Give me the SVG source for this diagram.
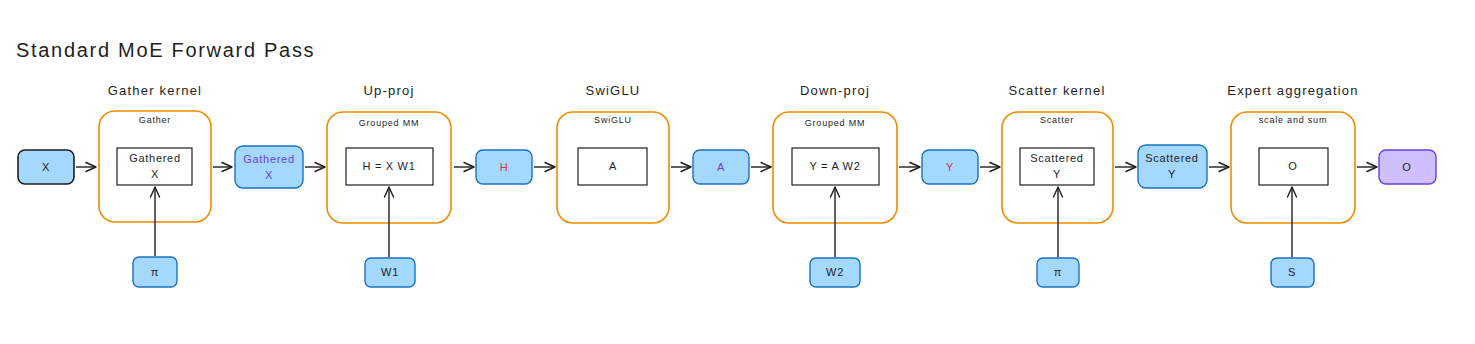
<svg xmlns="http://www.w3.org/2000/svg" width="1475" height="344" viewBox="0 0 1475 344">
<defs>
<marker id="ah" viewBox="0 0 12 12" refX="11" refY="6" markerWidth="12" markerHeight="12" markerUnits="userSpaceOnUse" orient="auto">
<path d="M1,1.5 L11,6 L1,10.5" fill="none" stroke="#1e1e1e" stroke-width="1.4" stroke-linecap="round" stroke-linejoin="round"/>
</marker>
<style>
text{font-family:"Liberation Sans","DejaVu Sans",sans-serif;fill:#1e1e1e;text-anchor:middle}
.title{font-size:20px;text-anchor:start;letter-spacing:1.7px}
.stage{font-size:13px;letter-spacing:1.2px}
.sub{font-size:9px;letter-spacing:0.8px}
.lbl{font-size:11px;letter-spacing:0.7px}
.outer{fill:#ffffff;stroke:#f08c00;stroke-width:1.6}
.inner{fill:#ffffff;stroke:#1e1e1e;stroke-width:1.2}
.blue{fill:#a5d8ff;stroke:#1971c2;stroke-width:1.4}
.blueDark{fill:#a5d8ff;stroke:#1e1e1e;stroke-width:1.6}
.purpleN{fill:#d0bfff;stroke:#6741d9;stroke-width:1.4}
.edge{fill:none;stroke:#1e1e1e;stroke-width:1.4;marker-end:url(#ah)}
.tp{fill:#6741d9}
.tr{fill:#e03131}
</style>
</defs>
<rect width="1475" height="344" fill="#ffffff"/>
<text class="title" x="16" y="57">Standard MoE Forward Pass</text>

<g id="stage-gather">
<text class="stage" x="155" y="95">Gather kernel</text>
<rect class="outer" x="99" y="111" width="112" height="111" rx="16"/>
<text class="sub" x="155" y="123">Gather</text>
<rect class="inner" x="117" y="148" width="75" height="37"/>
<text class="lbl" x="155" y="162">Gathered</text>
<text class="lbl" x="155" y="178">X</text>
</g>
<g id="stage-upproj">
<text class="stage" x="389" y="95">Up-proj</text>
<rect class="outer" x="327" y="112" width="124" height="111" rx="16"/>
<text class="sub" x="389" y="126">Grouped MM</text>
<rect class="inner" x="346" y="148" width="87" height="37"/>
<text class="lbl" x="389" y="170">H = X W1</text>
</g>
<g id="stage-swiglu">
<text class="stage" x="613" y="95">SwiGLU</text>
<rect class="outer" x="557" y="112" width="112" height="111" rx="16"/>
<text class="sub" x="613" y="123">SwiGLU</text>
<rect class="inner" x="578" y="148" width="69" height="37"/>
<text class="lbl" x="613" y="170">A</text>
</g>
<g id="stage-downproj">
<text class="stage" x="835" y="95">Down-proj</text>
<rect class="outer" x="773" y="112" width="124" height="111" rx="16"/>
<text class="sub" x="835" y="126">Grouped MM</text>
<rect class="inner" x="792" y="148" width="87" height="37"/>
<text class="lbl" x="835" y="170">Y = A W2</text>
</g>
<g id="stage-scatter">
<text class="stage" x="1057" y="95">Scatter kernel</text>
<rect class="outer" x="1002" y="112" width="111" height="111" rx="16"/>
<text class="sub" x="1057" y="123">Scatter</text>
<rect class="inner" x="1020" y="148" width="74" height="37"/>
<text class="lbl" x="1057" y="162">Scattered</text>
<text class="lbl" x="1057" y="178">Y</text>
</g>
<g id="stage-aggregation">
<text class="stage" x="1293" y="95">Expert aggregation</text>
<rect class="outer" x="1231" y="112" width="124" height="111" rx="16"/>
<text class="sub" x="1293" y="123">scale and sum</text>
<rect class="inner" x="1259" y="148" width="69" height="37"/>
<text class="lbl" x="1293" y="170">O</text>
</g>

<g id="node-x">
<rect class="blueDark" x="18" y="150" width="56" height="34" rx="7"/>
<text class="lbl" x="46" y="171">X</text>
</g>
<g id="node-gathered-x">
<rect class="blue" x="235" y="146" width="68" height="42" rx="8"/>
<text class="lbl tp" x="269" y="163">Gathered</text>
<text class="lbl tp" x="269" y="179">X</text>
</g>
<g id="node-h">
<rect class="blue" x="476" y="150" width="56" height="34" rx="7"/>
<text class="lbl tr" x="504" y="171">H</text>
</g>
<g id="node-a">
<rect class="blue" x="693" y="150" width="56" height="34" rx="7"/>
<text class="lbl tp" x="721" y="171">A</text>
</g>
<g id="node-y">
<rect class="blue" x="922" y="150" width="56" height="34" rx="7"/>
<text class="lbl tr" x="950" y="171">Y</text>
</g>
<g id="node-scattered-y">
<rect class="blue" x="1138" y="145" width="69" height="43" rx="8"/>
<text class="lbl" x="1172" y="162">Scattered</text>
<text class="lbl" x="1172" y="178">Y</text>
</g>
<g id="node-o">
<rect class="purpleN" x="1379" y="150" width="57" height="34" rx="7"/>
<text class="lbl" x="1407" y="171">O</text>
</g>
<g id="node-pi1">
<rect class="blue" x="133" y="257" width="44" height="30" rx="6"/>
<text class="lbl" x="155" y="276">π</text>
</g>
<g id="node-w1">
<rect class="blue" x="365" y="258" width="50" height="29" rx="6"/>
<text class="lbl" x="390" y="276">W1</text>
</g>
<g id="node-w2">
<rect class="blue" x="810" y="258" width="50" height="29" rx="6"/>
<text class="lbl" x="835" y="276">W2</text>
</g>
<g id="node-pi2">
<rect class="blue" x="1037" y="258" width="42" height="29" rx="6"/>
<text class="lbl" x="1058" y="276">π</text>
</g>
<g id="node-s">
<rect class="blue" x="1271" y="258" width="43" height="29" rx="6"/>
<text class="lbl" x="1292" y="276">S</text>
</g>

<g id="connectors">
<line class="edge" x1="76" y1="167" x2="96" y2="167"/>
<line class="edge" x1="213" y1="167" x2="232" y2="167"/>
<line class="edge" x1="305" y1="167" x2="325" y2="167"/>
<line class="edge" x1="454" y1="167" x2="474" y2="167"/>
<line class="edge" x1="534" y1="167" x2="555" y2="167"/>
<line class="edge" x1="671" y1="167" x2="691" y2="167"/>
<line class="edge" x1="751" y1="167" x2="771" y2="167"/>
<line class="edge" x1="899" y1="167" x2="920" y2="167"/>
<line class="edge" x1="980" y1="167" x2="1000" y2="167"/>
<line class="edge" x1="1115" y1="167" x2="1136" y2="167"/>
<line class="edge" x1="1209" y1="167" x2="1229" y2="167"/>
<line class="edge" x1="1357" y1="167" x2="1377" y2="167"/>
<line class="edge" x1="155" y1="256" x2="155" y2="187"/>
<line class="edge" x1="389" y1="257" x2="389" y2="187"/>
<line class="edge" x1="835" y1="257" x2="835" y2="187"/>
<line class="edge" x1="1058" y1="257" x2="1058" y2="187"/>
<line class="edge" x1="1292" y1="257" x2="1292" y2="187"/>
</g>
</svg>
